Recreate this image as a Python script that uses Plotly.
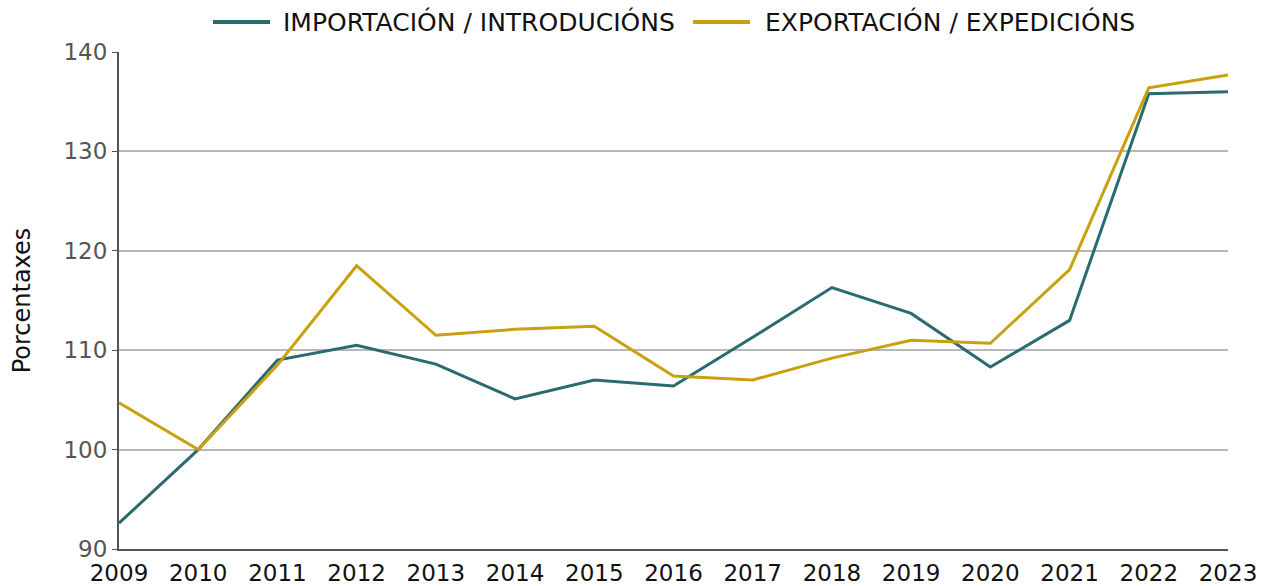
import plotly.graph_objects as go

years = list(range(2009, 2024))
importacion = [92.6, 100.0, 109.0, 110.5, 108.6, 105.1, 107.0, 106.4, 111.3, 116.3, 113.7, 108.3, 113.0, 135.8, 136.0]
exportacion = [104.7, 100.0, 108.5, 118.5, 111.5, 112.1, 112.4, 107.4, 107.0, 109.2, 111.0, 110.7, 118.1, 136.4, 137.7]
y_ticks = [90, 100, 110, 120, 130, 140]
series_names = ["IMPORTACIÓN / INTRODUCIÓNS", "EXPORTACIÓN / EXPEDICIÓNS"]
series_colors = ["#2a6b6e", "#c9a010"]

FONT = "DejaVu Sans"
W, H = 1270, 586
L, R, T, B = 119, 42, 52, 37
PW, PH = W - L - R, H - T - B

def px_x(p):
    return (p - L) / PW

def px_y(p):
    return (H - B - p) / PH

fig = go.Figure()
for name, vals, col in zip(series_names, [importacion, exportacion], series_colors):
    fig.add_trace(go.Scatter(x=years, y=vals, mode="lines", name=name,
                             line=dict(color=col, width=3), showlegend=False))

# manual legend (long swatches like the reference)
legend_items = [(213, 270, 281), (693, 750, 763)]
ly = px_y(22)
for (x0, x1, tx), name, col in zip(legend_items, series_names, series_colors):
    fig.add_shape(type="line", xref="paper", yref="paper", x0=px_x(x0), x1=px_x(x1), y0=ly, y1=ly,
                  line=dict(color=col, width=4))
    fig.add_annotation(xref="paper", yref="paper", x=px_x(tx), y=ly, xanchor="left", yanchor="middle",
                       text=name, showarrow=False, font=dict(family=FONT, size=25, color="#111"))

fig.update_layout(
    width=W, height=H,
    margin=dict(l=L, r=R, t=T, b=B, autoexpand=False),
    paper_bgcolor="white", plot_bgcolor="white",
    font=dict(family=FONT, size=23, color="#111"),
    showlegend=False,
    xaxis=dict(range=[2009, 2023], tickmode="array", tickvals=years, ticktext=[str(y) for y in years],
               showgrid=False, showline=True, linecolor="#555", linewidth=2, ticks="",
               tickfont=dict(family=FONT, size=23, color="#111"), zeroline=False, automargin=False,
               ticklabelstandoff=2),
    yaxis=dict(range=[90, 140], tickmode="array", tickvals=y_ticks,
               showgrid=True, gridcolor="#b8b8b8", gridwidth=2,
               showline=True, linecolor="#555", linewidth=2, ticks="outside", ticklen=5,
               tickcolor="#555", tickwidth=1,
               tickfont=dict(family=FONT, size=23, color="#555"), zeroline=False, automargin=False,
               title=dict(text="Porcentaxes", font=dict(family=FONT, size=24, color="#111"), standoff=26)),
)

fig.write_html("out.html", config={"displayModeBar": False},
               post_script="document.body.style.margin='0';document.body.style.overflow='hidden';")
